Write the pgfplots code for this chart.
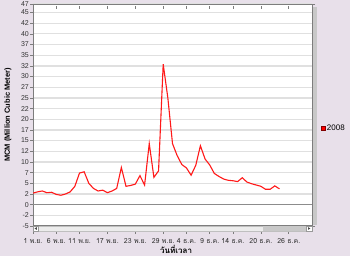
\documentclass[border=0pt]{standalone}
\usepackage{pgfplots}
\pgfplotsset{compat=1.18}
\usepackage{fontspec}
\setmainfont{Liberation Sans}
\newfontfamily\thaifont[Script=Thai]{Loma}
\definecolor{bg}{RGB}{232,224,234}
\definecolor{gridc}{RGB}{224,224,224}
\definecolor{framec}{RGB}{125,125,125}
\definecolor{zeroc}{RGB}{140,140,140}
\definecolor{linec}{RGB}{255,25,25}
\definecolor{sbar}{RGB}{200,200,200}
\definecolor{sbarbg}{RGB}{236,236,236}

\pgfplotstableread{
d v
0 2.7
1 3.0
2 3.2
3 2.8
4 2.9
5 2.4
6 2.2
7 2.5
8 3.0
9 4.3
10 7.4
11 7.7
12 5.0
13 3.8
14 3.2
15 3.4
16 2.8
17 3.2
18 3.8
19 8.7
20 4.3
21 4.5
22 4.8
23 6.8
24 4.6
25 14.3
26 6.4
27 7.9
28 32.9
29 25.0
30 14.3
31 11.5
32 9.4
33 8.6
34 6.9
35 9.2
36 13.8
37 10.7
38 9.3
39 7.3
40 6.6
41 6.0
42 5.7
43 5.6
44 5.4
45 6.3
46 5.3
47 4.9
48 4.6
49 4.3
50 3.6
51 3.6
52 4.4
53 3.7
}\datatable

\begin{document}
\begin{tikzpicture}
\useasboundingbox (0,0) rectangle (350pt,256pt);
\fill[bg] (0,0) rectangle (350pt,256pt);
\begin{axis}[
  at={(33pt,30pt)}, anchor=south west,
  scale only axis, width=279pt, height=222pt,
  xmin=0, xmax=60, ymin=-5, ymax=47,
  axis background/.style={fill=white},
  axis line style={framec, line width=1pt},
  ymajorgrids, grid style={gridc, line width=1.2pt},
  tick align=outside, major tick length=3pt,
  tick style={framec, line width=0.6pt},
  major x tick style={yshift=-5pt},
  xtick={0,5,10,16,22,28,33,38,43,49,55},
  xticklabels={1 พ.ย.,6 พ.ย.,11 พ.ย.,17 พ.ย.,23 พ.ย.,29 พ.ย.,4 ธ.ค.,9 ธ.ค.,14 ธ.ค.,20 ธ.ค.,26 ธ.ค.},
  xticklabel style={font=\thaifont\fontsize{7}{8}\selectfont, yshift=-6pt, text=black!80},
  ytick={-5,-2.5,0,2.5,5,7.5,10,12.5,15,17.5,20,22.5,25,27.5,30,32.5,35,37.5,40,42.5,45,47},
  yticklabels={-5,-2,0,2,5,7,10,12,15,17,20,22,25,27,30,32,35,37,40,42,45,47},
  yticklabel style={font=\fontsize{7}{8}\selectfont, text=black!80, inner sep=1pt},
  xlabel={วันที่เวลา},
  xlabel style={font=\thaifont\bfseries\fontsize{8}{9}\selectfont, at={(axis description cs:0.513,-0.105)}, anchor=center, inner sep=0pt},
  ylabel={MCM (Million Cubic Meter)},
  ylabel style={font=\bfseries\fontsize{7.5}{9}\selectfont, at={(axis description cs:-0.09,0.5)}, anchor=center},
  legend style={at={(axis description cs:1.03,0.44)}, anchor=west, draw=none, fill=none,
    font=\fontsize{8}{9}\selectfont, inner sep=0pt,
    /tikz/every even column/.append style={column sep=2.5pt}},
  legend image code/.code={\draw[fill=red, draw=red!50!black, line width=0.4pt] (0pt,-2pt) rectangle (4pt,2pt);},
]
\addplot[zeroc, line width=1.6pt, forget plot] coordinates {(0,0) (60,0)};
\addplot[linec, line width=1.1pt] table[x=d, y=v] {\datatable};
\addlegendentry{2008}
\end{axis}
% decorative scrollbars
\fill[sbar] (313pt,31pt) rectangle (317pt,249pt);
\fill[sbarbg, draw=black!25, line width=0.3pt] (33pt,25pt) rectangle (312pt,30pt);
\fill[sbar] (263pt,25.3pt) rectangle (306pt,29.7pt);
\fill[white, draw=black!40, line width=0.3pt] (33.3pt,25.3pt) rectangle (38pt,29.7pt);
\fill[black!70] (34.5pt,27.5pt) -- (36.8pt,28.9pt) -- (36.8pt,26.1pt) -- cycle;
\fill[white, draw=black!40, line width=0.3pt] (306.5pt,25.3pt) rectangle (311.7pt,29.7pt);
\fill[black!70] (310.3pt,27.5pt) -- (308pt,28.9pt) -- (308pt,26.1pt) -- cycle;
\end{tikzpicture}
\end{document}
